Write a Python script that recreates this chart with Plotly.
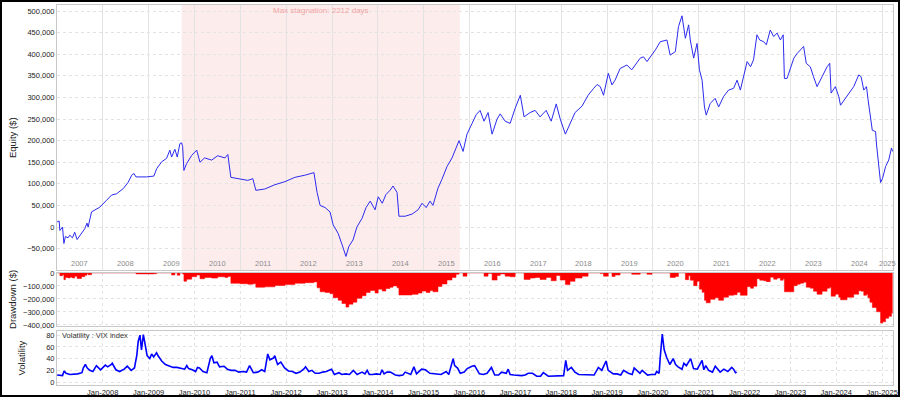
import plotly.graph_objects as go
import pandas as pd

# ---------------- data ----------------
eq_dates = [
    "2007-01-03","2007-01-19","2007-01-25","2007-02-15","2007-02-26","2007-03-10","2007-03-31","2007-04-14",
    "2007-05-05","2007-05-23","2007-06-11","2007-07-16","2007-08-11","2007-08-29","2007-09-07","2007-10-04",
    "2007-12-09","2008-02-01","2008-03-12","2008-04-21","2008-06-13","2008-07-23","2008-08-19","2008-09-06",
    "2008-09-22","2008-12-16","2009-02-12","2009-03-06","2009-04-15","2009-05-24","2009-06-19","2009-07-03",
    "2009-07-29","2009-08-17","2009-09-07","2009-09-21","2009-09-29","2009-10-09","2009-10-31","2009-12-10",
    "2010-01-19","2010-02-14","2010-03-23","2010-05-18","2010-07-05","2010-09-01","2010-09-24","2010-10-18",
    "2010-12-28","2011-03-02","2011-04-11","2011-05-05","2011-07-15","2011-10-04","2011-12-23","2012-03-11",
    "2012-05-30","2012-08-10","2012-09-04","2012-09-28","2012-11-07","2012-12-16","2013-01-10","2013-02-19",
    "2013-03-21","2013-04-22","2013-05-15","2013-06-17","2013-07-18","2013-08-28","2013-09-29","2013-11-01",
    "2013-12-10","2014-01-04","2014-02-05","2014-03-06","2014-04-08","2014-05-02","2014-06-03","2014-06-18",
    "2014-08-06","2014-10-01","2014-11-18","2014-12-19","2015-01-21","2015-02-21","2015-03-16","2015-04-25",
    "2015-05-26","2015-07-06","2015-08-15","2015-09-16","2015-10-10","2015-11-11","2015-12-12","2016-01-22",
    "2016-02-23","2016-03-25","2016-04-26","2016-05-28","2016-06-29","2016-08-08","2016-09-02","2016-10-11",
    "2016-11-20","2016-12-30","2017-02-09","2017-03-11","2017-04-28","2017-06-07","2017-07-16","2017-09-03",
    "2017-10-13","2017-11-22","2017-12-24","2018-02-03","2018-03-12","2018-04-21","2018-06-16","2018-08-03",
    "2018-09-13","2018-10-14","2018-11-08","2018-12-04","2019-01-11","2019-02-09","2019-03-06","2019-04-15",
    "2019-06-08","2019-07-17","2019-09-22","2019-10-18","2019-11-15","2019-12-25","2020-01-21","2020-02-29",
    "2020-04-22","2020-05-18","2020-06-28","2020-07-23","2020-08-20","2020-09-16","2020-10-12","2020-10-25",
    "2020-11-21","2020-12-18","2021-01-06","2021-01-27","2021-02-15","2021-03-01","2021-04-02","2021-05-11",
    "2021-06-08","2021-07-17","2021-08-26","2021-10-05","2021-11-02","2021-11-28","2022-01-21","2022-02-17",
    "2022-03-13","2022-04-09","2022-05-01","2022-06-02","2022-06-23","2022-07-24","2022-08-20","2022-09-17",
    "2022-10-13","2022-11-04","2022-11-14","2022-12-05","2023-01-28","2023-02-24","2023-03-20","2023-04-16",
    "2023-05-07","2023-06-08","2023-07-04","2023-08-01","2023-09-10","2023-10-20","2023-11-10","2023-11-21",
    "2023-12-25","2024-01-21","2024-02-04","2024-03-27","2024-05-19","2024-06-28","2024-07-17","2024-08-07",
    "2024-08-29","2024-09-09","2024-09-25","2024-10-14","2024-11-09","2024-11-17","2024-12-19","2025-01-04",
    "2025-01-28","2025-02-22","2025-03-16","2025-03-25",
]
eq_values_k = [
    12, 14, -8, 0, -38, -22, -25, -19,
    -25, -12, -29, -15, -4, 9, 0, 35,
    46, 62, 74, 77, 89, 104, 120, 124,
    116, 116, 118, 135, 151, 159, 178, 162,
    180, 162, 193, 195, 186, 131, 147, 166,
    178, 150, 160, 155, 165, 160, 168, 115,
    112, 108, 112, 85, 88, 98, 105, 115,
    120, 126, 80, 50, 45, 35, 5, -15,
    -40, -68, -45, -30, 0, 20, 45, 60,
    40, 70, 55, 75, 85, 95, 80, 25,
    25, 30, 40, 55, 45, 60, 50, 90,
    110, 140, 160, 185, 200, 175, 215, 240,
    260, 270, 245, 265, 215, 250, 262, 245,
    240, 275, 305, 255, 265, 270, 255, 270,
    245, 285, 250, 215, 240, 265, 280, 305,
    320, 330, 325, 305, 356, 329, 340, 367,
    375, 364, 391, 394, 383, 398, 410, 429,
    433, 398, 406, 464, 489, 437, 468, 433,
    391, 425, 364, 340, 278, 259, 286, 298,
    278, 302, 317, 321, 340, 317, 383, 371,
    387, 445, 433, 429, 422, 456, 441, 449,
    433, 445, 344, 344, 391, 402, 410, 418,
    379, 371, 348, 325, 348, 371, 379, 310,
    325, 302, 282, 302, 325, 352, 348, 317,
    325, 298, 263, 224, 221, 190, 103, 113,
    140, 155, 183, 175,
]

vix_dates = [
    "2007-01-03","2007-02-15","2007-02-28","2007-03-15","2007-04-15","2007-05-15","2007-06-15","2007-07-20",
    "2007-07-30","2007-08-16","2007-08-31","2007-09-20","2007-10-15","2007-11-12","2007-11-26","2007-12-15",
    "2008-01-22","2008-02-10","2008-03-10","2008-03-17","2008-04-15","2008-05-15","2008-06-20","2008-07-15",
    "2008-08-15","2008-09-10","2008-09-29","2008-10-10","2008-10-24","2008-11-05","2008-11-20","2008-12-05",
    "2008-12-20","2009-01-10","2009-01-25","2009-02-10","2009-03-05","2009-03-20","2009-04-15","2009-05-15",
    "2009-06-15","2009-07-15","2009-08-15","2009-09-15","2009-10-15","2009-11-01","2009-11-15","2009-12-15",
    "2010-01-10","2010-01-25","2010-02-10","2010-03-10","2010-04-10","2010-05-07","2010-05-20","2010-06-05",
    "2010-06-30","2010-07-20","2010-08-25","2010-09-20","2010-10-20","2010-11-20","2010-12-20","2011-01-20",
    "2011-02-20","2011-03-16","2011-04-15","2011-05-20","2011-06-20","2011-07-15","2011-08-08","2011-08-25",
    "2011-09-22","2011-10-03","2011-10-25","2011-11-20","2011-12-20","2012-01-20","2012-02-20","2012-03-20",
    "2012-04-20","2012-05-20","2012-06-04","2012-06-30","2012-07-25","2012-08-20","2012-09-20","2012-10-20",
    "2012-11-15","2012-12-28","2013-01-20","2013-02-25","2013-03-20","2013-04-20","2013-05-20","2013-06-20",
    "2013-07-20","2013-08-28","2013-09-20","2013-10-08","2013-10-25","2013-11-20","2013-12-20","2014-01-20",
    "2014-02-03","2014-02-20","2014-03-14","2014-04-11","2014-05-20","2014-06-20","2014-07-20","2014-08-07",
    "2014-09-20","2014-10-15","2014-11-05","2014-12-16","2015-01-15","2015-02-20","2015-03-20","2015-04-20",
    "2015-05-20","2015-06-29","2015-07-20","2015-08-24","2015-09-05","2015-09-28","2015-10-20","2015-11-20",
    "2015-12-14","2016-01-20","2016-02-11","2016-03-20","2016-04-20","2016-05-20","2016-06-24","2016-07-20",
    "2016-08-20","2016-09-12","2016-10-20","2016-11-04","2016-11-20","2016-12-20","2017-01-20","2017-02-20",
    "2017-03-20","2017-04-13","2017-05-17","2017-06-20","2017-07-20","2017-08-11","2017-09-20","2017-10-20",
    "2017-11-20","2017-12-20","2018-01-20","2018-02-06","2018-02-20","2018-03-23","2018-04-20","2018-05-20",
    "2018-06-20","2018-07-20","2018-08-20","2018-09-20","2018-10-24","2018-11-20","2018-12-24","2019-01-10",
    "2019-02-20","2019-03-20","2019-04-20","2019-05-13","2019-06-20","2019-07-20","2019-08-05","2019-09-20",
    "2019-10-08","2019-11-20","2019-12-20","2020-01-20","2020-01-31","2020-02-20","2020-02-28","2020-03-16",
    "2020-03-31","2020-04-20","2020-05-15","2020-06-11","2020-06-30","2020-07-20","2020-08-20","2020-09-04",
    "2020-09-24","2020-10-28","2020-11-20","2020-12-20","2021-01-27","2021-02-10","2021-02-25","2021-03-20",
    "2021-04-20","2021-05-12","2021-06-20","2021-07-19","2021-08-20","2021-09-20","2021-10-05","2021-10-20",
    "2021-10-30",
]
vix_values = [
    12, 11, 19, 15, 13, 13, 14, 16,
    24, 30, 24, 20, 18, 28, 25, 21,
    29, 26, 30, 32, 21, 18, 22, 27,
    20, 24, 46, 70, 80, 55, 81, 60,
    45, 40, 48, 43, 50, 44, 36, 30,
    28, 25, 25, 24, 22, 28, 23, 21,
    18, 25, 24, 18, 16, 40, 45, 33,
    34, 26, 27, 22, 20, 20, 17, 18,
    17, 28, 16, 17, 21, 18, 48, 38,
    41, 45, 30, 34, 24, 19, 18, 15,
    17, 22, 26, 18, 20, 15, 15, 17,
    18, 22, 13, 16, 13, 14, 13, 20,
    13, 17, 14, 20, 13, 13, 14, 13,
    21, 14, 17, 17, 12, 11, 12, 17,
    13, 26, 14, 22, 21, 15, 14, 13,
    13, 18, 13, 40, 28, 24, 15, 17,
    23, 27, 28, 14, 13, 15, 25, 12,
    12, 17, 15, 22, 13, 12, 11, 11,
    12, 15, 15, 10, 10, 16, 10, 10,
    11, 10, 11, 37, 20, 25, 17, 13,
    13, 12, 13, 12, 25, 20, 36, 20,
    14, 14, 12, 20, 15, 13, 24, 15,
    20, 12, 13, 13, 18, 15, 40, 82,
    55, 42, 30, 40, 30, 26, 22, 32,
    28, 40, 23, 22, 37, 21, 28, 20,
    17, 27, 17, 22, 18, 25, 22, 16,
    17,
]

year_labels = [str(y) for y in range(2007, 2026)]
year_label_dates = [f"{y}-07-01" for y in range(2007, 2025)] + ["2025-02-12"]

stagnation_start = "2009-09-21"
stagnation_end = "2015-10-16"
stagnation_text = "Max stagnation: 2212 days"

# ---------------- derived ----------------
eq = pd.Series([v * 1000 for v in eq_values_k], index=pd.to_datetime(eq_dates))
dd = eq - eq.cummax()

FONT = "Liberation Sans, Arial, sans-serif"
GRID = "#e3e3e3"
FRAME = "#c8c8c8"

fig = go.Figure()
fig.add_trace(go.Scatter(x=eq.index, y=eq.values, mode="lines",
                         line=dict(color="#2b2bf0", width=1), xaxis="x", yaxis="y",
                         showlegend=False, hoverinfo="skip"))
fig.add_trace(go.Scatter(x=dd.index, y=dd.values, mode="lines", fill="tozeroy",
                         fillcolor="#ff0000", line=dict(color="#ff0000", width=0.5, shape="hv"),
                         xaxis="x2", yaxis="y2", showlegend=False, hoverinfo="skip"))
fig.add_trace(go.Scatter(x=pd.to_datetime(vix_dates), y=vix_values, mode="lines",
                         line=dict(color="#0000ff", width=1.6), xaxis="x3", yaxis="y3",
                         showlegend=False, hoverinfo="skip"))

xrange = ["2007-01-02", "2025-03-28"]
common_x = dict(range=xrange, type="date", showline=True, mirror=True, linecolor=FRAME,
                linewidth=1, gridcolor=GRID, gridwidth=1, dtick="M12", tick0="2007-01-01",
                ticks="", zeroline=False, automargin=False)
common_y = dict(showline=True, mirror=True, linecolor=FRAME, linewidth=1, gridcolor=GRID,
                griddash="dot", ticks="", zeroline=False, tickfont=dict(size=7.5, color="#222"),
                tickformat=",", automargin=False)

fig.update_layout(
    width=900, height=397,
    margin=dict(l=57, r=7, t=5, b=12, autoexpand=False),
    paper_bgcolor="white", plot_bgcolor="white",
    font=dict(family=FONT, size=9, color="#222"),
    xaxis=dict(**common_x, domain=[0, 1], anchor="y", showticklabels=False, matches="x3"),
    xaxis2=dict(**common_x, domain=[0, 1], anchor="y2", showticklabels=False, griddash="dot", matches="x3"),
    xaxis3=dict(**common_x, domain=[0, 1], anchor="y3", showticklabels=True, griddash="dot",
                tickformat="%b-%Y", tickfont=dict(size=7.5, color="#222")),
    yaxis=dict(**common_y, domain=[0.3026, 1.0], range=[-99500, 514000], dtick=50000),
    yaxis2=dict(**common_y, domain=[0.1553, 0.296], range=[-408000, 3000], dtick=100000),
    yaxis3=dict(**{**common_y, "tickformat": "d"}, domain=[0.0, 0.1434], range=[-5, 88], dtick=20),
)

shapes = [
    dict(type="rect", xref="x", yref="y domain", x0=stagnation_start, x1=stagnation_end,
         y0=0, y1=1, fillcolor="#fdecec", line=dict(width=0), layer="below"),
    dict(type="rect", xref="paper", yref="paper", x0=-57 / 836 + 0.0012, x1=1 + 7 / 836 - 0.0012,
         y0=-12 / 380 + 0.0026, y1=1 + 5 / 380 - 0.0026, line=dict(color="black", width=2),
         fillcolor="rgba(0,0,0,0)", layer="above"),
]
fig.update_layout(shapes=shapes)

annotations = [
    dict(text=stagnation_text, xref="x", yref="y domain",
         x=pd.Timestamp(stagnation_start) + (pd.Timestamp(stagnation_end) - pd.Timestamp(stagnation_start)) / 2,
         y=0.978, showarrow=False, font=dict(size=8, color="#f2a5a5"), yanchor="middle"),
    dict(text="Volatility : VIX index", xref="x3 domain", yref="y3 domain", x=0.004, y=0.90,
         xanchor="left", yanchor="middle", showarrow=False, font=dict(size=7.5, color="#333")),
    dict(text="Equity ($)", xref="paper", yref="paper", x=-0.054, y=0.652, textangle=-90,
         xanchor="center", yanchor="middle", showarrow=False, font=dict(size=9.5, color="#222")),
    dict(text="Drawdown ($)", xref="paper", yref="paper", x=-0.054, y=0.226, textangle=-90,
         xanchor="center", yanchor="middle", showarrow=False, font=dict(size=9.5, color="#222")),
    dict(text="Volatility", xref="paper", yref="paper", x=-0.042, y=0.072, textangle=-90,
         xanchor="center", yanchor="middle", showarrow=False, font=dict(size=9.5, color="#222")),
]
for lab, d in zip(year_labels, year_label_dates):
    annotations.append(dict(text=lab, xref="x", yref="y", x=d, y=-85000, showarrow=False,
                            font=dict(size=7.5, color="#8c8c8c"), yanchor="middle"))
fig.update_layout(annotations=annotations)

fig.write_html("out.html", config={"displayModeBar": False},
               post_script="document.body.style.margin='0';document.body.style.overflow='hidden';")
